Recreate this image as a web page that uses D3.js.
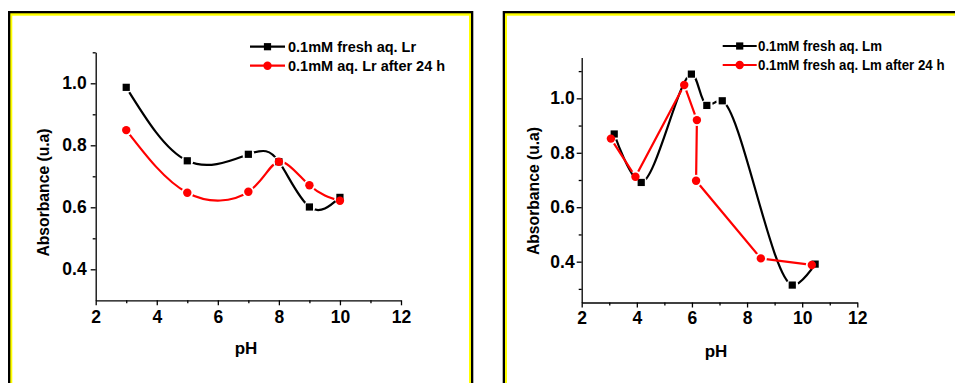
<!DOCTYPE html>
<html>
<head>
<meta charset="utf-8">
<script src="https://cdn.jsdelivr.net/npm/d3@7"></script>
<style>
  html, body { margin: 0; padding: 0; background: #fff; }
  svg { display: block; }
  text { font-family: "Liberation Sans", Arial, sans-serif; font-weight: bold; fill: #000; }
</style>
</head>
<body>
<svg id="chart" width="955" height="383"></svg>
<script>
// ---------- data ----------
const xTicks = [2, 4, 6, 8, 10, 12];
const xMinor = [3, 5, 7, 9, 11];

// Left panel (Lr)
const leftPH = [3, 5, 7, 8, 9, 10];
const leftFresh = [0.987, 0.750, 0.771, 0.747, 0.601, 0.632];
const leftAged = [0.849, 0.647, 0.650, 0.747, 0.671, 0.621];
const leftYTicks = [0.4, 0.6, 0.8, 1.0];
const leftYMinor = [0.5, 0.7, 0.9, 1.1];
const leftLegend = ["0.1mM fresh aq. Lr", "0.1mM aq. Lr after 24 h"];

// Right panel (Lm)
const rightFreshPH = [3.18, 4.16, 5.98, 6.54, 7.10, 9.64, 10.47];
const rightFresh = [0.869, 0.691, 1.089, 0.974, 0.991, 0.314, 0.391];
const rightAgedPH = [3.06, 3.95, 5.72, 6.18, 6.15, 8.50, 10.35];
const rightAged = [0.852, 0.712, 1.049, 0.920, 0.697, 0.412, 0.388];
const rightYTicks = [0.4, 0.6, 0.8, 1.0];
const rightYMinor = [0.3, 0.5, 0.7, 0.9, 1.1];
const rightLegend = ["0.1mM fresh aq. Lm", "0.1mM fresh aq. Lm after 24 h"];

const xTitle = "pH";
const yTitle = "Absorbance (u.a)";

// ---------- drawing ----------
const svg = d3.select("#chart");
const defs = svg.append("defs");

function frame(x0, x1) {
  svg.append("rect").attr("x", x0).attr("y", 11).attr("width", x1 - x0).attr("height", 400).attr("fill", "#000");
  svg.append("rect").attr("x", x0 + 2.3).attr("y", 13.3).attr("width", x1 - x0 - 4.6).attr("height", 400).attr("fill", "#ffff00");
  svg.append("rect").attr("x", x0 + 4.3).attr("y", 15.7).attr("width", x1 - x0 - 8.6).attr("height", 400).attr("fill", "#fff");
}
frame(8, 473.3);
frame(502.7, 962);

let maskId = 0;
function series(g, x, y, xs, ys, color, shape, curve) {
  const pts = xs.map((v, i) => [x(v), y(ys[i])]);
  const id = "m" + (maskId++);
  const mask = defs.append("mask").attr("id", id).attr("maskUnits", "userSpaceOnUse")
    .attr("x", 0).attr("y", 0).attr("width", 955).attr("height", 383);
  mask.append("rect").attr("width", 955).attr("height", 383).attr("fill", "#fff");
  mask.selectAll("circle").data(pts).join("circle")
    .attr("cx", d => d[0]).attr("cy", d => d[1]).attr("r", 6).attr("fill", "#000");
  const line = d3.line().curve(curve);
  g.append("path").attr("d", line(pts)).attr("fill", "none").attr("stroke", color)
    .attr("stroke-width", 2.2).attr("mask", "url(#" + id + ")");
  if (shape === "square") {
    g.selectAll(null).data(pts).join("rect")
      .attr("x", d => d[0] - 3.6).attr("y", d => d[1] - 3.6).attr("width", 7.2).attr("height", 7.2).attr("fill", color);
  } else {
    g.selectAll(null).data(pts).join("circle")
      .attr("cx", d => d[0]).attr("cy", d => d[1]).attr("r", 4.2).attr("fill", color);
  }
}

function legendRow(g, x0, x1, y, color, shape, label, tx, fs, tlen) {
  g.append("line").attr("x1", x0).attr("x2", x1).attr("y1", y).attr("y2", y)
    .attr("stroke", color).attr("stroke-width", 2.2);
  const cx = (x0 + x1) / 2;
  if (shape === "square") {
    g.append("rect").attr("x", cx - 3.6).attr("y", y - 3.6).attr("width", 7.2).attr("height", 7.2).attr("fill", color);
  } else {
    g.append("circle").attr("cx", cx).attr("cy", y).attr("r", 4.2).attr("fill", color);
  }
  const t = g.append("text").attr("x", tx).attr("y", y + fs * 0.36).attr("font-size", fs + "px").text(label);
  if (tlen) t.attr("textLength", tlen).attr("lengthAdjust", "spacingAndGlyphs");
}

function panel(cfg) {
  const g = svg.append("g");
  const x = d3.scaleLinear().domain([2, 12]).range([cfg.x0, cfg.x1]);
  const y = d3.scaleLinear().domain(cfg.yDomain).range([cfg.y0, cfg.y1]);

  g.append("g").attr("transform", `translate(0,${cfg.y0})`)
    .call(d3.axisBottom(x).tickValues(xTicks).tickSize(5).tickSizeOuter(0).tickPadding(cfg.xPad).tickFormat(d3.format("d")));
  g.append("g").attr("transform", `translate(0,${cfg.y0})`)
    .call(d3.axisBottom(x).tickValues(xMinor).tickSize(3).tickSizeOuter(0).tickFormat(""))
    .select(".domain").remove();
  g.append("g").attr("transform", `translate(${cfg.x0},0)`)
    .call(d3.axisLeft(y).tickValues(cfg.yTicks).tickSize(5).tickSizeOuter(0).tickPadding(cfg.yPad).tickFormat(d3.format(".1f")));
  g.append("g").attr("transform", `translate(${cfg.x0},0)`)
    .call(d3.axisLeft(y).tickValues(cfg.yMinor).tickSize(3).tickSizeOuter(0).tickFormat(""))
    .select(".domain").remove();
  g.selectAll(".domain, .tick line").attr("stroke", "#000").attr("stroke-width", 1.3);
  g.selectAll(".tick text").attr("font-size", "17.5px").attr("font-family", "Liberation Sans, Arial, sans-serif")
    .attr("font-weight", "bold").attr("fill", "#000");

  g.append("text").attr("x", cfg.pHx).attr("y", cfg.pHy).attr("text-anchor", "middle").attr("font-size", "17px").text(xTitle);
  g.append("text").attr("transform", `translate(${cfg.absX},${cfg.absY}) rotate(-90)`)
    .attr("text-anchor", "middle").attr("font-size", "15.7px").text(yTitle);

  series(g, x, y, cfg.fx, cfg.fy, "#000", "square", cfg.freshCurve);
  series(g, x, y, cfg.ax, cfg.ay, "#ff0000", "circle", cfg.agedCurve);

  legendRow(g, cfg.lx0, cfg.lx1, cfg.ly[0], "#000", "square", cfg.legend[0], cfg.tx, cfg.lfs, cfg.tlen[0]);
  legendRow(g, cfg.lx0, cfg.lx1, cfg.ly[1], "#ff0000", "circle", cfg.legend[1], cfg.tx, cfg.lfs, cfg.tlen[1]);
}

panel({
  x0: 95.7, x1: 401, y0: 300.3, y1: 52.3, yDomain: [0.3, 1.1],
  yTicks: leftYTicks, yMinor: leftYMinor, xPad: 5, yPad: 4,
  pHx: 246, pHy: 354, absX: 48.5, absY: 192.5,
  fx: leftPH, fy: leftFresh, ax: leftPH, ay: leftAged,
  freshCurve: d3.curveNatural, agedCurve: d3.curveNatural,
  lx0: 250, lx1: 285, ly: [46.7, 65.7], tx: 288, lfs: 14.5, tlen: [null, null],
  legend: leftLegend
});

panel({
  x0: 581.7, x1: 857.3, y0: 302.5, y1: 57.5, yDomain: [0.25, 1.15],
  yTicks: rightYTicks, yMinor: rightYMinor, xPad: 4, yPad: 2,
  pHx: 716, pHy: 357, absX: 538.5, absY: 191,
  fx: rightFreshPH, fy: rightFresh, ax: rightAgedPH, ay: rightAged,
  freshCurve: d3.curveCatmullRom.alpha(0.5), agedCurve: d3.curveLinear,
  lx0: 722.7, lx1: 756.7, ly: [46, 65], tx: 758, lfs: 14, tlen: [124, 186.5],
  legend: rightLegend
});
</script>
</body>
</html>
